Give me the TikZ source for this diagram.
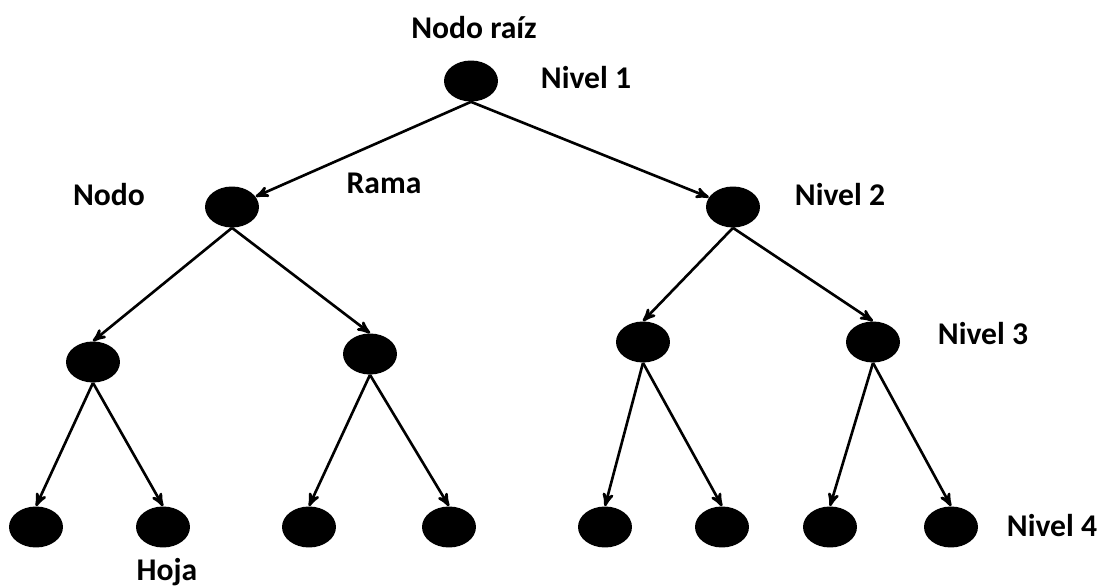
\documentclass[tikz,border=0pt]{standalone}
\usepackage{fontspec}
\setmainfont{Carlito}
\usetikzlibrary{shapes,arrows,positioning}

\begin{document}
\begin{tikzpicture}[x=0.02cm,y=-0.02cm]
	\useasboundingbox (0,0) rectangle (1100,588);
	\tikzset{nodo/.style={ellipse,fill=black,inner sep=0pt,minimum width=1.08cm,minimum height=0.82cm},
			 etiqueta/.style={anchor=base,font=\bfseries\fontsize{18}{22}\selectfont}}

	% raiz y segundo nivel
	\node[nodo](R) at (471,81){};
	\node[nodo](A) at (232,207){};
	\node[nodo](B) at (733,207){};

	\foreach \x/\y [count=\n] in {93/362,370/354,643/342,873/342}
		\node[nodo](C\n) at (\x,\y){};

	\foreach \x [count=\n] in {36,163,309,449,605,722,830,951}
		\node[nodo](H\n) at (\x,527){};

	\path [->,>=stealth',line width=1.5pt]
		(R.south) edge node {} (A)
		(R.south) edge node {} (B)
		(A.south) edge node {} (C1.north)
		(A.south) edge node {} (C2.north)
		(B.south) edge node {} (C3.north)
		(B.south) edge node {} (C4.north)
		(C1.south) edge node {} (H1.north)
		(C1.south) edge node {} (H2.north)
		(C2.south) edge node {} (H3.north)
		(C2.south) edge node {} (H4.north)
		(C3.south) edge node {} (H5.north)
		(C3.south) edge node {} (H6.north)
		(C4.south) edge node {} (H7.north)
		(C4.south) edge node {} (H8.north);

	\node[etiqueta](raiz) at (474,39){Nodo raíz};
	\node[etiqueta](nivel1) at (586,89){Nivel 1};
	\node[etiqueta](nodo) at (109,206){Nodo};
	\node[etiqueta](rama) at (384,194){Rama};
	\node[etiqueta](nivel2) at (840,206){Nivel 2};
	\node[etiqueta](nivel3) at (983,344){Nivel 3};
	\node[etiqueta](nivel4) at (1052,536){Nivel 4};
	\node[etiqueta](hoja) at (167,580){Hoja};
\end{tikzpicture}
\end{document}
